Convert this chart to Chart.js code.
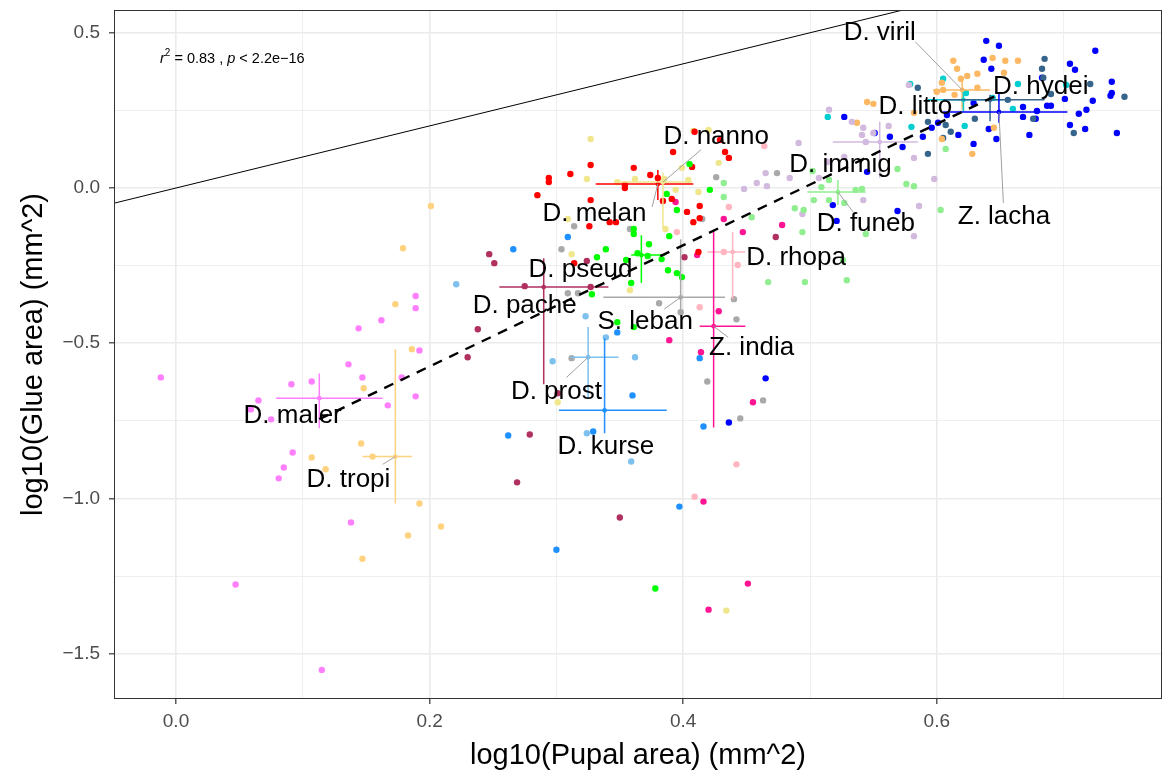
<!DOCTYPE html>
<html>
<head>
<meta charset="utf-8">
<script src="https://cdn.jsdelivr.net/npm/chart.js@4.4.1/dist/chart.umd.min.js"></script>
<style>
  html, body { margin: 0; padding: 0; background: #fff; }
</style>
</head>
<body>
<canvas id="glueChart" width="1166" height="778"></canvas>
<script>
// species, in the order used by every array below
const species = ['D. maler', 'D. tropi', 'D. pache', 'D. prost', 'D. kurse', 'D. pseud', 'D. melan', 'D. nanno',
  'S. leban', 'D. rhopa', 'Z. india', 'D. funeb', 'D. immig', 'D. viril', 'D. litto', 'D. hydei', 'Z. lacha'];

// individual measurements [log10 pupal area, log10 glue area]
const ptsMaler = [[-0.012,-0.610],[0.065,-0.684],[0.091,-0.632],[0.107,-0.623],[0.136,-0.568],[0.147,-0.610],[0.167,-0.700],[0.189,-0.348],[0.189,-0.387],[0.162,-0.426],[0.144,-0.452],[0.192,-0.523],[0.178,-0.610],[0.189,-0.671],[0.075,-0.745],[0.059,-0.713],[0.092,-0.852],[0.085,-0.900],[0.081,-0.935],[0.138,-1.077],[0.047,-1.277],[0.115,-1.552]];
const ptsTropi = [[0.173,-0.374],[0.186,-0.519],[0.148,-0.645],[0.146,-0.823],[0.155,-0.865],[0.107,-0.868],[0.118,-0.906],[0.179,-0.194],[0.201,-0.058],[0.192,-1.016],[0.209,-1.090],[0.183,-1.119],[0.147,-1.194]];
const ptsPache = [[0.247,-0.213],[0.251,-0.242],[0.275,-0.316],[0.327,-0.319],[0.238,-0.455],[0.230,-0.545],[0.324,-0.235],[0.301,-0.661],[0.279,-0.794],[0.269,-0.948],[0.350,-1.061],[0.401,-0.223],[0.473,-0.158]];
const ptsProst = [[0.221,-0.310],[0.323,-0.413],[0.297,-0.558],[0.362,-0.545],[0.339,-0.481],[0.359,-0.881],[0.324,-0.790]];
const ptsKurse = [[0.266,-0.197],[0.309,-0.158],[0.348,-0.465],[0.360,-0.668],[0.413,-0.548],[0.416,-0.768],[0.329,-0.784],[0.262,-0.797],[0.397,-1.026],[0.300,-1.165]];
const ptsPseud = [[0.405,0.077],[0.421,-0.006],[0.387,-0.019],[0.395,-0.071],[0.361,-0.132],[0.361,-0.148],[0.389,-0.155],[0.373,-0.181],[0.339,-0.197],[0.332,-0.223],[0.364,-0.210],[0.372,-0.219],[0.383,-0.229],[0.388,-0.265],[0.395,-0.274],[0.399,-0.287],[0.359,-0.306],[0.355,-0.232],[0.328,-0.342],[0.348,-0.432],[0.361,-0.448],[0.378,-1.290]];
const ptsMelan = [[0.409,0.181],[0.429,0.155],[0.433,0.116],[0.436,0.097],[0.392,0.116],[0.407,0.068],[0.361,0.065],[0.374,0.042],[0.380,0.032],[0.311,0.045],[0.294,0.032],[0.294,0.019],[0.327,0.074],[0.354,0.010],[0.354,0.000],[0.285,-0.023],[0.327,-0.039],[0.384,-0.042],[0.391,-0.035],[0.403,-0.077],[0.413,-0.058],[0.413,-0.097],[0.408,-0.110],[0.342,-0.110],[0.347,-0.110],[0.326,-0.123],[0.412,-0.206],[0.314,-0.242]];
const ptsNanno = [[0.327,0.158],[0.408,0.184],[0.420,0.187],[0.428,0.081],[0.399,0.065],[0.324,0.029],[0.348,0.019],[0.362,0.029],[0.385,0.029],[0.404,0.026],[0.394,-0.006],[0.412,-0.013],[0.386,-0.132],[0.309,-0.100],[0.312,-0.213],[0.358,-0.329],[0.301,-0.690],[0.434,-1.361]];
const ptsLeban = [[0.426,0.035],[0.474,0.048],[0.415,-0.100],[0.358,-0.132],[0.314,-0.123],[0.304,-0.197],[0.309,-0.339],[0.317,-0.339],[0.381,-0.371],[0.398,-0.400],[0.440,-0.358],[0.442,-0.423],[0.312,-0.548],[0.419,-0.623],[0.463,-0.684],[0.445,-0.742]];
const ptsRhopa = [[0.395,-0.142],[0.436,-0.061],[0.443,-0.248],[0.432,-0.206],[0.464,0.135],[0.413,-0.384],[0.442,-0.890],[0.409,-0.994]];
const ptsIndia = [[0.394,-0.045],[0.432,-0.100],[0.447,-0.142],[0.478,-0.119],[0.411,-0.216],[0.428,-0.397],[0.389,-0.490],[0.414,-0.529],[0.455,-0.690],[0.416,-1.010],[0.451,-1.274],[0.420,-1.358]];
const ptsFuneb = [[0.502,0.055],[0.509,0.003],[0.515,0.026],[0.503,-0.039],[0.515,-0.039],[0.488,-0.065],[0.495,-0.071],[0.527,-0.048],[0.536,-0.006],[0.541,-0.003],[0.494,-0.142],[0.544,-0.148],[0.526,-0.232],[0.467,-0.303],[0.496,-0.303],[0.529,-0.297],[0.569,0.061],[0.576,0.013],[0.582,0.006],[0.603,-0.071],[0.607,0.126],[0.432,0.016],[0.432,-0.029],[0.454,-0.094]];
const ptsImmig = [[0.465,0.048],[0.484,0.032],[0.466,0.006],[0.448,-0.003],[0.458,0.016],[0.491,0.145],[0.507,0.032],[0.514,0.084],[0.527,0.100],[0.533,0.213],[0.542,0.194],[0.541,0.171],[0.550,0.177],[0.562,0.200],[0.544,0.148],[0.582,0.097],[0.598,0.029],[0.586,-0.058],[0.582,-0.155],[0.494,-0.084],[0.515,0.252],[0.578,0.332],[0.542,-0.039]];
const ptsViril = [[0.613,0.410],[0.616,0.384],[0.624,0.361],[0.632,0.368],[0.619,0.352],[0.604,0.339],[0.605,0.316],[0.614,0.300],[0.632,0.323],[0.644,0.419],[0.654,0.410],[0.664,0.410],[0.645,0.194],[0.628,0.110],[0.545,0.277],[0.550,0.271],[0.537,0.210],[0.604,0.158],[0.582,0.242],[0.653,0.371],[0.600,0.310]];
const ptsLitto = [[0.579,0.335],[0.605,0.352],[0.514,0.229],[0.580,0.197],[0.622,0.200],[0.644,0.290],[0.664,0.335],[0.660,0.255],[0.702,0.332],[0.623,0.306]];
const ptsHydei = [[0.585,0.323],[0.685,0.416],[0.683,0.384],[0.684,0.355],[0.630,0.223],[0.607,0.203],[0.611,0.181],[0.605,0.161],[0.593,0.110],[0.676,0.223],[0.656,0.284],[0.708,0.177],[0.721,0.335],[0.748,0.294],[0.593,0.213],[0.690,0.303]];
const ptsLacha = [[0.639,0.474],[0.649,0.458],[0.637,0.413],[0.643,0.384],[0.725,0.442],[0.705,0.400],[0.709,0.381],[0.738,0.342],[0.738,0.306],[0.737,0.297],[0.723,0.281],[0.718,0.252],[0.712,0.239],[0.705,0.203],[0.717,0.190],[0.742,0.177],[0.701,0.287],[0.687,0.265],[0.690,0.265],[0.679,0.248],[0.678,0.223],[0.668,0.261],[0.668,0.229],[0.673,0.171],[0.647,0.158],[0.641,0.190],[0.629,0.142],[0.617,0.171],[0.608,0.235],[0.601,0.210],[0.596,0.194],[0.573,0.132],[0.563,0.165],[0.551,0.177],[0.545,0.052],[0.527,0.229],[0.569,-0.074],[0.518,-0.055],[0.521,-0.106],[0.683,0.355],[0.629,0.274],[0.589,0.165],[0.465,-0.613],[0.436,-0.755]];

const allPoints = [ptsMaler, ptsTropi, ptsPache, ptsProst, ptsKurse, ptsPseud, ptsMelan, ptsNanno,
  ptsLeban, ptsRhopa, ptsIndia, ptsFuneb, ptsImmig, ptsViril, ptsLitto, ptsHydei, ptsLacha];

// species means and their error ranges
const meanX = [0.113, 0.173, 0.290, 0.325, 0.338, 0.367, 0.380, 0.384, 0.398, 0.439, 0.424, 0.522, 0.555, 0.620, 0.621, 0.642, 0.649];
const meanY = [-0.677, -0.865, -0.319, -0.545, -0.716, -0.216, 0.013, 0.019, -0.352, -0.206, -0.445, -0.013, 0.148, 0.316, 0.284, 0.284, 0.245];
const xLo = [0.079, 0.147, 0.255, 0.311, 0.302, 0.359, 0.331, 0.348, 0.337, 0.419, 0.413, 0.498, 0.518, 0.597, 0.593, 0.605, 0.605];
const xHi = [0.163, 0.186, 0.341, 0.349, 0.387, 0.386, 0.408, 0.407, 0.433, 0.449, 0.449, 0.544, 0.585, 0.642, 0.652, 0.685, 0.703];
const yLo = [-0.774, -1.016, -0.632, -0.677, -0.790, -0.306, -0.039, -0.129, -0.403, -0.358, -0.771, -0.055, 0.032, 0.252, 0.245, 0.215, 0.210];
const yHi = [-0.597, -0.519, -0.226, -0.448, -0.484, -0.152, 0.058, 0.048, -0.165, -0.142, -0.139, 0.026, 0.213, 0.358, 0.310, 0.300, 0.306];

// regression of species means, and the 1:1 line
const fitX = [0.113, 0.649];
const fitA = -0.965;
const fitB = 1.952;
const idX = [-0.06, 0.6];
const statText = { r2: '0.83', p: '2.2e\u221216' };

const xTicks = [0.0, 0.2, 0.4, 0.6];
const yTicks = [-1.5, -1.0, -0.5, 0.0, 0.5];

// style
const colors = ['#FF80FF', '#FFD27F', '#B03060', '#7EC0EE', '#1E90FF', '#00FF00', '#FF0000', '#F0E68C',
  '#A9A9A9', '#FFB6C1', '#FF1493', '#90EE90', '#D2B9DE', '#FDB863', '#00CED1', '#36648B', '#0000FF'];
const FONT = "'Liberation Sans', Arial, Helvetica, sans-serif";

// repelled label spots (data units) and leader line starts (null = no leader)
const labelAt = [[0.092,-0.735],[0.136,-0.939],[0.275,-0.381],[0.300,-0.655],[0.339,-0.832],[0.319,-0.265],[0.330,-0.084],[0.426,0.165],
  [0.370,-0.432],[0.489,-0.226],[0.454,-0.516],[0.544,-0.116],[0.524,0.074],[0.555,0.500],[0.583,0.261],[0.682,0.326],[0.653,-0.094]];
const leadFrom = [null,[0.163,-0.890],null,[0.308,-0.610],null,null,[0.3755,-0.061],[0.414,0.123],
  [0.385,-0.390],null,[0.4355,-0.481],[0.534,-0.077],null,[0.583,0.471],null,null,[0.6525,-0.048]];

const isOn = (v, list) => list.some(t => Math.abs(v - t) < 1e-6);

const lineSets = [
  {
    label: 'fit',
    data: fitX.map(x => ({ x: x, y: fitA + fitB * x })),
    showLine: true, borderColor: '#000', borderWidth: 2.4, borderDash: [10, 8], pointRadius: 0
  },
  {
    label: 'identity',
    data: idX.map(x => ({ x: x, y: x })),
    showLine: true, borderColor: '#000', borderWidth: 1, pointRadius: 0
  }
];

const pointSets = species.map((name, i) => ({
  label: name,
  data: allPoints[i].map(p => ({ x: p[0], y: p[1] })),
  backgroundColor: colors[i],
  borderWidth: 0,
  pointRadius: 3.2
}));

const crossPlugin = {
  id: 'crosses',
  afterDatasetDraw(chart, args) {
    // the last point dataset has just been painted; lines go on top afterwards
    if (args.index !== lineSets.length) return;
    const { ctx, scales: { x, y } } = chart;
    ctx.save();
    ctx.lineWidth = 1.5;
    species.forEach((s, i) => {
      ctx.strokeStyle = colors[i];
      ctx.fillStyle = colors[i];
      const cx = x.getPixelForValue(meanX[i]);
      const cy = y.getPixelForValue(meanY[i]);
      ctx.beginPath();
      ctx.moveTo(x.getPixelForValue(xLo[i]), cy);
      ctx.lineTo(x.getPixelForValue(xHi[i]), cy);
      ctx.moveTo(cx, y.getPixelForValue(yLo[i]));
      ctx.lineTo(cx, y.getPixelForValue(yHi[i]));
      ctx.stroke();
      ctx.beginPath();
      ctx.arc(cx, cy, 2.4, 0, Math.PI * 2);
      ctx.fill();
    });
    ctx.restore();
  }
};

const labelPlugin = {
  id: 'labels',
  afterDraw(chart) {
    const { ctx, chartArea: a, scales: { x, y } } = chart;
    ctx.save();

    // leader segments
    ctx.strokeStyle = '#A0A0A0';
    ctx.lineWidth = 1;
    leadFrom.forEach((p, i) => {
      if (!p) return;
      ctx.beginPath();
      ctx.moveTo(x.getPixelForValue(p[0]), y.getPixelForValue(p[1]));
      ctx.lineTo(x.getPixelForValue(meanX[i]), y.getPixelForValue(meanY[i]));
      ctx.stroke();
    });

    // species names
    ctx.fillStyle = '#000';
    ctx.font = '26px ' + FONT;
    ctx.textAlign = 'center';
    ctx.textBaseline = 'middle';
    species.forEach((s, i) => {
      ctx.fillText(s, x.getPixelForValue(labelAt[i][0]), y.getPixelForValue(labelAt[i][1]));
    });

    // r^2 / p annotation
    let tx = x.getPixelForValue(-0.0126);
    const ty = y.getPixelForValue(0.4155);
    ctx.textAlign = 'left';
    const parts = [
      ['italic 14.5px ', 'r', 0],
      ['10px ', '2', -6],
      ['14.5px ', ' = ' + statText.r2 + ' , ', 0],
      ['italic 14.5px ', 'p', 0],
      ['14.5px ', ' < ' + statText.p, 0]
    ];
    parts.forEach(([f, t, dy]) => {
      ctx.font = f + FONT;
      ctx.fillText(t, tx, ty + dy);
      tx += ctx.measureText(t).width;
    });

    // panel border
    ctx.strokeStyle = '#333';
    ctx.lineWidth = 1;
    ctx.strokeRect(a.left + 0.5, a.top + 0.5, a.right - a.left - 1, a.bottom - a.top - 1);
    ctx.restore();
  }
};

const fmt = v => (v < 0 ? '\u2212' : '') + Math.abs(v).toFixed(1);

new Chart(document.getElementById('glueChart'), {
  type: 'scatter',
  data: { datasets: lineSets.concat(pointSets) },
  options: {
    responsive: false,
    animation: false,
    devicePixelRatio: 1,
    layout: { padding: { top: 10, right: 4, left: 0, bottom: 0 } },
    plugins: { legend: { display: false }, tooltip: { enabled: false } },
    scales: {
      x: {
        type: 'linear',
        min: -0.0489,
        max: 0.7776,
        afterFit: s => { s.height = 79; s.paddingLeft = 0; s.paddingRight = 0; },
        border: { display: false },
        grid: {
          color: '#EBEBEB',
          lineWidth: c => isOn(c.tick.value, xTicks) ? 1.6 : 0.8,
          tickLength: 5,
          tickWidth: 1.2,
          tickColor: c => isOn(c.tick.value, xTicks) ? '#333' : 'rgba(0,0,0,0)'
        },
        ticks: {
          stepSize: 0.1,
          includeBounds: false,
          autoSkip: false,
          maxRotation: 0,
          padding: 6,
          color: '#4D4D4D',
          font: { family: FONT, size: 19 },
          callback: v => isOn(v, xTicks) ? fmt(v) : ''
        },
        title: {
          display: true,
          text: 'log10(Pupal area) (mm^2)',
          color: '#000',
          font: { family: FONT, size: 29 },
          padding: { top: 0, bottom: 5 }
        }
      },
      y: {
        type: 'linear',
        min: -1.6457,
        max: 0.5733,
        afterFit: s => { s.width = 114; s.paddingTop = 0; s.paddingBottom = 0; },
        border: { display: false },
        grid: {
          color: '#EBEBEB',
          lineWidth: c => isOn(c.tick.value, yTicks) ? 1.6 : 0.8,
          tickLength: 5,
          tickWidth: 1.2,
          tickColor: c => isOn(c.tick.value, yTicks) ? '#333' : 'rgba(0,0,0,0)'
        },
        ticks: {
          stepSize: 0.25,
          includeBounds: false,
          autoSkip: false,
          padding: 9,
          color: '#4D4D4D',
          font: { family: FONT, size: 19 },
          callback: v => isOn(v, yTicks) ? fmt(v) : ''
        },
        title: {
          display: true,
          text: 'log10(Glue area) (mm^2)',
          color: '#000',
          font: { family: FONT, size: 29 },
          padding: { top: 17, bottom: 0 }
        }
      }
    }
  },
  plugins: [crossPlugin, labelPlugin]
});
</script>
</body>
</html>
